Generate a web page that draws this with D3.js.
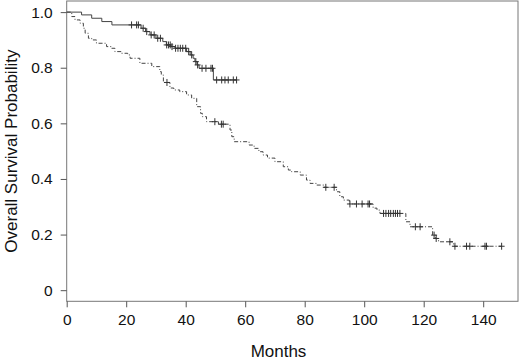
<!DOCTYPE html>
<html>
<head>
<meta charset="utf-8">
<script src="https://cdn.jsdelivr.net/npm/d3@7"></script>
<style>
  body { margin: 0; background: #fff; }
  svg { display: block; font-family: "Liberation Sans", Arial, sans-serif; }
</style>
</head>
<body>
<svg id="chart" width="520" height="361"></svg>
<script>
// group A (solid line): [month, survival] at each step
const solidSteps = [
  [0, 1.0], [5, 0.99], [8.4, 0.978], [11.8, 0.966], [15.2, 0.954],
  [25, 0.942], [26.5, 0.93], [28, 0.918], [30, 0.906], [32.3, 0.894],
  [33.5, 0.882], [35, 0.876], [36.4, 0.87], [40.3, 0.858], [41.5, 0.846],
  [42.5, 0.834], [43.1, 0.822], [43.8, 0.81], [44.5, 0.798], [49.3, 0.756]
];
const solidEnd = 57.1;
const solidCensor = [
  21.8, 23.5, 24.1, 25.7, 26.9, 28.4, 29.4, 30.6, 31.5, 33.6, 34.2, 34.8,
  35.4, 36.6, 37.4, 38.2, 39, 40, 41, 42, 43.4, 44, 45.5, 46.8, 48.5, 49,
  50.4, 52.1, 53.2, 54.3, 56, 57.1
];

// group B (dashed line)
const dashSteps = [
  [0, 1.0], [1.7, 0.984], [2.8, 0.972], [4.5, 0.96], [5.6, 0.942], [6.2, 0.924],
  [7.3, 0.906], [8.4, 0.9], [10, 0.888], [13.4, 0.876], [15, 0.87], [16.2, 0.858],
  [18.4, 0.852], [20.5, 0.846], [21.3, 0.834], [24.6, 0.816], [28.6, 0.804],
  [31.3, 0.786], [31.8, 0.774], [32.5, 0.747], [34.7, 0.727], [36, 0.72],
  [38, 0.714], [40.3, 0.702], [42, 0.69], [43.7, 0.66], [45, 0.636], [45.6, 0.624],
  [47, 0.606], [51, 0.597], [54.9, 0.576], [55.5, 0.552], [56.3, 0.534],
  [61.3, 0.522], [63, 0.51], [64.6, 0.498], [66, 0.486], [67.5, 0.475],
  [70, 0.462], [72.8, 0.444], [74.5, 0.432], [75.6, 0.426], [78.5, 0.414],
  [80.6, 0.396], [81.8, 0.384], [84, 0.378], [86.5, 0.37], [90.7, 0.354],
  [91.8, 0.336], [93, 0.324], [95, 0.31], [103, 0.295], [104.3, 0.288],
  [105.3, 0.276], [114, 0.246], [115.4, 0.228], [123, 0.198], [124, 0.186],
  [125, 0.174], [130, 0.158]
];
const dashEnd = 146.2;
const dashCensor = [
  33.7, 49.8, 52, 52.6, 87.1, 89.9, 95.2, 97.4, 99.3, 101.3, 101.8, 106.5,
  107.3, 108.2, 108.9, 109.8, 110.5, 111.2, 112, 117.2, 118.8, 123.5, 124.2,
  128.8, 130.5, 134.4, 135.5, 140.6, 141.1, 146.2
];

const xTicks = [0, 20, 40, 60, 80, 100, 120, 140];
const yTicks = [0, 0.2, 0.4, 0.6, 0.8, 1.0];
const yTickLabels = ['0', '0.2', '0.4', '0.6', '0.8', '1.0'];

const svg = d3.select('#chart');
const box = { left: 66.7, right: 518, top: 1, bottom: 301.3 };

const x = d3.scaleLinear().domain([0, 151.7]).range([box.left, box.right]);
const y = d3.scaleLinear().domain([-0.04, 1.04]).range([box.bottom, box.top]);

// frame
svg.append('rect')
  .attr('x', box.left).attr('y', box.top)
  .attr('width', box.right - box.left).attr('height', box.bottom - box.top)
  .attr('fill', 'none').attr('stroke', '#777').attr('stroke-width', 1);

// axes
const xAxis = svg.append('g')
  .attr('transform', `translate(0,${box.bottom})`)
  .call(d3.axisBottom(x).tickValues(xTicks).tickSize(6).tickPadding(7).tickFormat(d3.format('d')));
const yAxis = svg.append('g')
  .attr('transform', `translate(${box.left},0)`)
  .call(d3.axisLeft(y).tickValues(yTicks).tickSize(6).tickPadding(8)
    .tickFormat((d, i) => yTickLabels[i]));

[xAxis, yAxis].forEach(g => {
  g.select('.domain').remove();
  g.selectAll('.tick line').attr('stroke', '#555');
  g.selectAll('.tick text').attr('fill', '#111').style('font-size', '15.5px');
});

svg.append('text')
  .attr('x', 278.5).attr('y', 357)
  .attr('text-anchor', 'middle').attr('fill', '#111')
  .style('font-size', '17px').text('Months');

svg.append('text')
  .attr('transform', `translate(17,${y(0.5)}) rotate(-90)`)
  .attr('text-anchor', 'middle').attr('fill', '#111')
  .style('font-size', '17px').text('Overall Survival Probability');

const line = d3.line()
  .x(d => x(d[0]))
  .y(d => y(d[1]))
  .curve(d3.curveStepAfter);

function survAt(steps, t) {
  let s = steps[0][1];
  steps.forEach(d => { if (d[0] <= t) s = d[1]; });
  return s;
}

function drawCurve(steps, end, censor, dash) {
  const pts = steps.concat([[end, steps[steps.length - 1][1]]]);
  svg.append('path')
    .datum(pts)
    .attr('d', line)
    .attr('fill', 'none')
    .attr('stroke', '#444')
    .attr('stroke-width', 1)
    .attr('stroke-dasharray', dash);

  const marks = svg.append('g').attr('stroke', '#333').attr('stroke-width', 1);
  censor.forEach(t => {
    const cx = x(t), cy = y(survAt(steps, t));
    marks.append('line').attr('x1', cx - 3).attr('x2', cx + 3).attr('y1', cy).attr('y2', cy);
    marks.append('line').attr('x1', cx).attr('x2', cx).attr('y1', cy - 3.5).attr('y2', cy + 3.5);
  });
}

drawCurve(solidSteps, solidEnd, solidCensor, null);
drawCurve(dashSteps, dashEnd, dashCensor, '4,2,1,2');
</script>
</body>
</html>
